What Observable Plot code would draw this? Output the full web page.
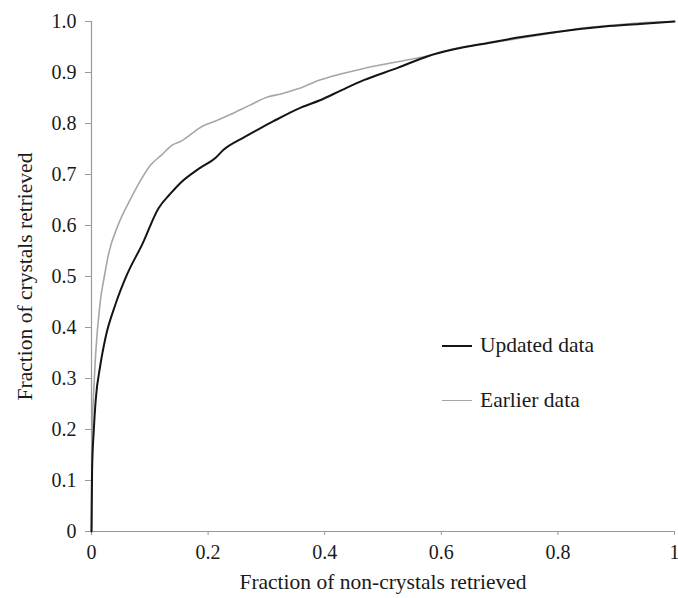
<!DOCTYPE html>
<html><head><meta charset="utf-8">
<script src="https://cdn.jsdelivr.net/npm/d3@7"></script>
<script src="https://cdn.jsdelivr.net/npm/@observablehq/plot@0.6"></script>
<style>
body{margin:0;background:#fff;}
#wrap{position:relative;width:678px;height:598px;font-family:'Liberation Serif','DejaVu Serif',serif;}
#wrap svg text{font-family:'Liberation Serif','DejaVu Serif',serif;}
.leg{position:absolute;font-size:21.5px;line-height:25px;color:#1a1a1a;display:flex;align-items:center;white-space:nowrap;font-family:'Liberation Serif','DejaVu Serif',serif;}
.leg span.sw{display:inline-block;width:30px;margin-right:8px;}
</style></head>
<body>
<div id="wrap"></div>
<script>
const xTickValues = [0, 0.2, 0.4, 0.6, 0.8, 1];
const xTickLabels = ["0", "0.2", "0.4", "0.6", "0.8", "1"];
const yTickValues = [0, 0.1, 0.2, 0.3, 0.4, 0.5, 0.6, 0.7, 0.8, 0.9, 1.0];
const yTickLabels = ["0", "0.1", "0.2", "0.3", "0.4", "0.5", "0.6", "0.7", "0.8", "0.9", "1.0"];
const seriesNames = ["Updated data", "Earlier data"];
const seriesColors = ["#141414", "#a6a6a6"];

const updatedX = [0, 0.001, 0.004, 0.007, 0.015, 0.024, 0.041, 0.061, 0.087, 0.115, 0.135, 0.153, 0.185, 0.213, 0.227, 0.26, 0.29, 0.313, 0.359, 0.393, 0.43, 0.467, 0.525, 0.577, 0.62, 0.68, 0.74, 0.794, 0.88, 0.94, 1];
const updatedY = [0, 0.12, 0.2, 0.255, 0.325, 0.38, 0.445, 0.504, 0.563, 0.634, 0.662, 0.684, 0.712, 0.733, 0.749, 0.772, 0.791, 0.805, 0.831, 0.846, 0.866, 0.885, 0.909, 0.932, 0.945, 0.958, 0.970, 0.979, 0.990, 0.995, 1];

const earlierX = [0, 0.0005, 0.001, 0.004, 0.007, 0.015, 0.022, 0.029, 0.046, 0.067, 0.085, 0.101, 0.12, 0.139, 0.153, 0.191, 0.213, 0.239, 0.27, 0.302, 0.325, 0.354, 0.393, 0.411, 0.467, 0.52, 0.577, 0.62, 0.68, 0.74, 0.794, 0.85, 0.9, 0.95, 1];
const earlierY = [0, 0.1, 0.19, 0.28, 0.346, 0.451, 0.5, 0.543, 0.602, 0.652, 0.69, 0.718, 0.738, 0.758, 0.765, 0.795, 0.805, 0.818, 0.835, 0.852, 0.858, 0.868, 0.886, 0.892, 0.908, 0.92, 0.933, 0.946, 0.957, 0.968, 0.978, 0.988, 0.993, 0.998, 1];

const updated = updatedX.map((x, i) => ({x, y: updatedY[i]}));
const earlier = earlierX.map((x, i) => ({x, y: earlierY[i]}));

const chart = Plot.plot({
  width: 678, height: 598,
  marginLeft: 91, marginRight: 4, marginTop: 21, marginBottom: 67,
  style: {fontFamily: "Liberation Serif, DejaVu Serif, serif", fontSize: "20px", color: "#1a1a1a", background: "#fff"},
  x: {domain: [0, 1]},
  y: {domain: [0, 1]},
  marks: [
    Plot.axisY({ticks: yTickValues, tickFormat: (d, i) => yTickLabels[i], tickSize: 6, tickPadding: 9, stroke: "#999", fontSize: 20, label: null}),
    Plot.axisY({ticks: [], tickSize: 0, fontSize: 21.5,
      label: "Fraction of crystals retrieved", labelAnchor: "center", labelArrow: "none", labelOffset: 75}),
    Plot.axisX({ticks: xTickValues, tickFormat: (d, i) => xTickLabels[i], tickSize: 4, tickPadding: 9, stroke: "#999", fontSize: 20, label: null}),
    Plot.axisX({ticks: [], tickSize: 0, fontSize: 21.5,
      label: "Fraction of non-crystals retrieved", labelAnchor: "center", labelArrow: "none", labelOffset: 57}),
    Plot.ruleX([0], {stroke: "#999", strokeWidth: 1.2}),
    Plot.ruleY([0], {stroke: "#999", strokeWidth: 1.2}),
    Plot.line(earlier, {x: "x", y: "y", stroke: seriesColors[1], strokeWidth: 1.6, curve: "monotone-x"}),
    Plot.line(updated, {x: "x", y: "y", stroke: seriesColors[0], strokeWidth: 2, curve: "monotone-x"})
  ]
});
const wrap = document.getElementById("wrap");
wrap.appendChild(chart);

const legendTops = [333, 388];
seriesNames.forEach((name, i) => {
  const d = document.createElement("div");
  d.className = "leg";
  d.style.left = "442px";
  d.style.top = legendTops[i] + "px";
  d.innerHTML = `<span class="sw" style="border-top:${i === 0 ? 2 : 1.6}px solid ${seriesColors[i]}"></span>${name}`;
  wrap.appendChild(d);
});
</script>
</body></html>
